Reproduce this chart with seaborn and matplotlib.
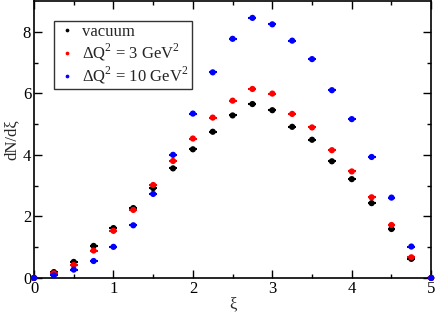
import numpy as np
import pandas as pd
import matplotlib
matplotlib.use("Agg")
import matplotlib.pyplot as plt
import seaborn as sns

# xi bins and dN/dxi values
xi = [0.0, 0.25, 0.5, 0.75, 1.0, 1.25, 1.5, 1.75, 2.0, 2.25, 2.5,
      2.75, 3.0, 3.25, 3.5, 3.75, 4.0, 4.25, 4.5, 4.75, 5.0]
vacuum = [0.0, 0.19, 0.52, 1.04, 1.62, 2.27, 2.92, 3.56, 4.18, 4.75, 5.28,
          5.65, 5.45, 4.91, 4.49, 3.79, 3.21, 2.43, 1.59, 0.62, 0.0]
q3 = [0.0, 0.15, 0.42, 0.89, 1.53, 2.21, 3.02, 3.80, 4.53, 5.21, 5.76,
      6.14, 5.99, 5.33, 4.89, 4.15, 3.46, 2.62, 1.72, 0.67, 0.0]
q10 = [0.0, 0.08, 0.27, 0.55, 1.01, 1.71, 2.73, 4.00, 5.34, 6.68, 7.77,
       8.45, 8.24, 7.71, 7.11, 6.10, 5.16, 3.93, 2.61, 1.02, 0.0]
labels = ["vacuum", r"$\Delta$Q$^2$ = 3 GeV$^2$", r"$\Delta$Q$^2$ = 10 GeV$^2$"]
colors = ["black", "red", "blue"]

df = pd.DataFrame({"xi": xi * 3,
                   "dN": vacuum + q3 + q10,
                   "sample": [labels[0]] * len(xi) + [labels[1]] * len(xi) + [labels[2]] * len(xi)})

sns.set_style("ticks")
plt.rcParams["font.family"] = ["Liberation Serif", "DejaVu Serif"]
plt.rcParams["mathtext.fontset"] = "custom"
plt.rcParams["mathtext.rm"] = "Liberation Serif"

fig = plt.figure(figsize=(4.36, 3.18), dpi=100)
ax = fig.add_axes([0.078, 0.126, 0.911, 0.871])

# small horizontal bars on each point
for lab, c in zip(labels, colors):
    sub = df[df["sample"] == lab]
    ax.errorbar(sub["xi"], sub["dN"], xerr=0.05, fmt="none", ecolor=c, elinewidth=1.5, capsize=0)

sns.scatterplot(data=df, x="xi", y="dN", hue="sample", palette=colors, s=20,
                edgecolor="none", ax=ax, zorder=3, clip_on=False)

ax.set_xlim(0, 5)
ax.set_ylim(0, 9)
ax.set_xticks([0, 1, 2, 3, 4, 5])
ax.set_xticks([0.5, 1.5, 2.5, 3.5, 4.5], minor=True)
ax.set_yticks([0, 2, 4, 6, 8])
ax.set_yticks([1, 3, 5, 7], minor=True)
ax.tick_params(which="both", direction="in", top=True, right=True, labelsize=12, colors="black")
ax.tick_params(which="major", length=6, width=1)
ax.tick_params(which="minor", length=3, width=1)
ax.tick_params(axis="both", pad=2)
ax.set_xlabel("ξ", fontsize=12, labelpad=0)
ax.set_ylabel("dN/dξ", fontsize=12, labelpad=2)
for sp in ax.spines.values():
    sp.set_linewidth(1.2)
    sp.set_color("black")

leg = ax.legend(loc="upper left", bbox_to_anchor=(0.05, 0.928), borderaxespad=0,
                fontsize=12, frameon=True, fancybox=False, edgecolor="black",
                handletextpad=0.3, borderpad=0.2, labelspacing=0.1,
                markerscale=0.6, handlelength=1.2)
leg.get_frame().set_linewidth(1.0)

fig.savefig("out.png", dpi=100)
